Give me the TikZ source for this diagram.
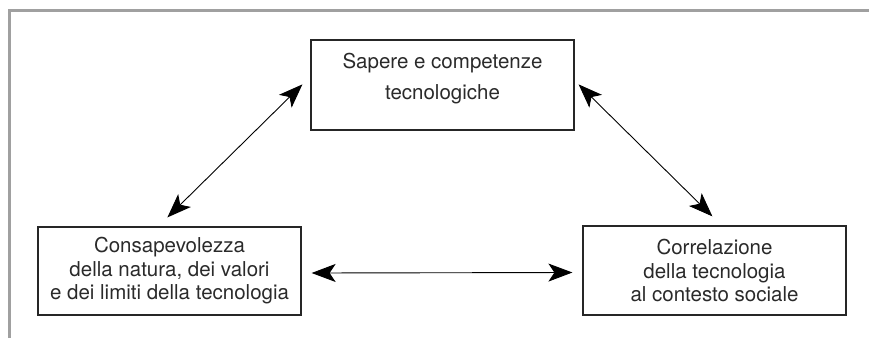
\documentclass[tikz,border=0pt]{standalone}
\usepackage{fontspec}
\setmainfont{TeX Gyre Heros}
\usetikzlibrary{arrows.meta}
\definecolor{cornice}{HTML}{A0A0A0}
\definecolor{testo}{HTML}{2A2A2A}

\begin{document}
\begin{tikzpicture}[x=1pt, y=-1pt,
  riquadro/.style={draw=black!85, line width=1.2pt, minimum width=263pt, minimum height=89pt,
    inner sep=0pt, align=center, text=testo, font=\fontsize{20.5}{23.5}\selectfont},
  freccia/.style={line width=0.9pt, arrows={Stealth[length=24pt, width=18pt, inset=6pt]-Stealth[length=24pt, width=18pt, inset=6pt]}}]
\useasboundingbox (0,0) rectangle (869,338);
% cornice
\draw[cornice, line width=3pt] (9,338) -- (9,10) -- (869,10);
% riquadri
\node[riquadro, minimum height=90pt, text depth=18pt, font=\fontsize{20.5}{31}\selectfont] (sapere) at (442.5,85) {Sapere e competenze\\tecnologiche};
\node[riquadro, minimum height=88pt] (consapevolezza) at (169.5,271) {Consapevolezza\\della natura, dei valori\\e dei limiti della tecnologia};
\node[riquadro] (correlazione) at (714.5,270.5) {Correlazione\\della tecnologia\\al contesto sociale};
% frecce
\draw[freccia] ([xshift=130pt, yshift=9pt]consapevolezza.north west) -- ([xshift=-8pt, yshift=-45pt]sapere.north west);
\draw[freccia] ([xshift=4pt, yshift=-45pt]sapere.north east) -- ([xshift=130pt, yshift=9pt]correlazione.north west);
\draw[freccia] ([xshift=10pt, yshift=-2pt]consapevolezza.east) -- ([xshift=-10pt, yshift=-2pt]correlazione.west);
\end{tikzpicture}
\end{document}
